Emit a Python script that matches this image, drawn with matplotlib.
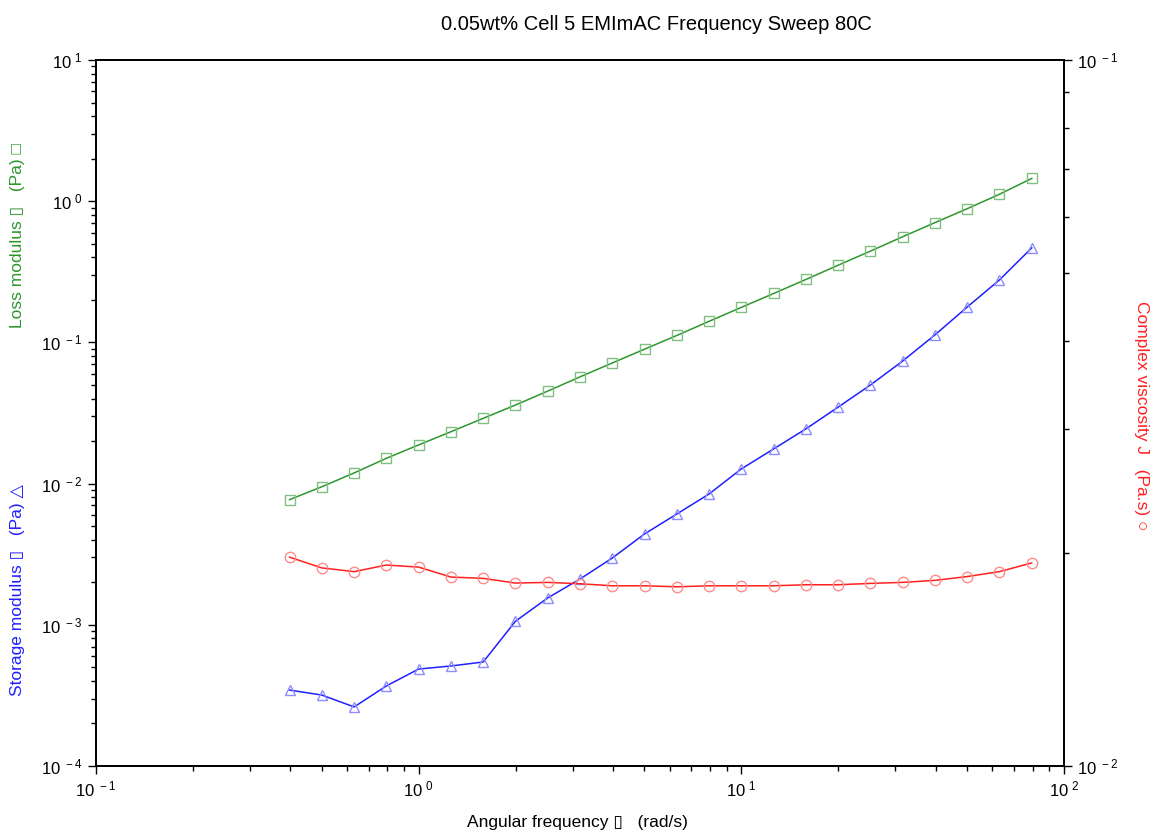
import matplotlib
matplotlib.use("Agg")
import numpy as np
import matplotlib.pyplot as plt
from matplotlib.ticker import LogLocator, NullFormatter, FuncFormatter

plt.rcParams['font.family'] = ['Liberation Sans', 'DejaVu Sans']
plt.rcParams['mathtext.fontset'] = 'custom'
plt.rcParams['mathtext.rm'] = 'Liberation Sans'
plt.rcParams['mathtext.default'] = 'regular'

# angular frequency (rad/s)
omega = [0.398, 0.501, 0.631, 0.794, 1.0, 1.259, 1.585, 1.995, 2.512, 3.162,
         3.981, 5.012, 6.310, 7.943, 10.0, 12.59, 15.85, 19.95, 25.12, 31.62,
         39.81, 50.12, 63.10, 79.43]

# loss modulus (Pa)
g_loss = [0.0077, 0.0095, 0.0119, 0.0151, 0.0188, 0.0233, 0.0290, 0.0360,
          0.0452, 0.0570, 0.0715, 0.0895, 0.112, 0.141, 0.177, 0.222, 0.279,
          0.352, 0.443, 0.560, 0.705, 0.885, 1.12, 1.45]

# storage modulus (Pa)
g_stor = [3.45e-4, 3.18e-4, 2.62e-4, 3.69e-4, 4.86e-4, 5.11e-4, 5.45e-4,
          1.06e-3, 1.55e-3, 2.11e-3, 2.97e-3, 4.40e-3, 6.09e-3, 8.44e-3,
          0.0127, 0.0176, 0.0244, 0.0348, 0.0499, 0.0738, 0.113, 0.178,
          0.277, 0.467]

# complex viscosity (Pa.s)
eta = [0.01976, 0.01908, 0.01885, 0.01926, 0.01913, 0.01852, 0.01844,
       0.01816, 0.01820, 0.01812, 0.01800, 0.01800, 0.01794, 0.01800,
       0.01800, 0.01800, 0.01806, 0.01806, 0.01814, 0.01820, 0.01832,
       0.01855, 0.01885, 0.01939]


def pow_label(v, pos):
    return r'$10^{\ %d}$' % int(round(np.log10(v)))


fig = plt.figure(figsize=(11.57, 8.33), dpi=100)
ax = fig.add_axes([96 / 1157, 1 - 766 / 833, (1064 - 96) / 1157, (766 - 60) / 833])
ax2 = ax.twinx()

ax.plot(omega, g_loss, color='#2e962e', lw=1.1, zorder=3)
ax.plot(omega, g_loss, ls='none', marker='s', ms=7.5, mfc='none', mec='#7fbf7f', mew=1.0, zorder=4)
ax.plot(omega, g_stor, color='#2020ff', lw=1.1, zorder=3)
ax.plot(omega, g_stor, ls='none', marker='^', ms=7.5, mfc='none', mec='#8c8cff', mew=1.0, zorder=4)
ax2.plot(omega, eta, color='#ff2020', lw=1.1, zorder=3)
ax2.plot(omega, eta, ls='none', marker='o', ms=7.5, mfc='none', mec='#ff8c8c', mew=1.0, zorder=4)

ax.set_xscale('log')
ax.set_yscale('log')
ax2.set_yscale('log')
ax.set_xlim(0.1, 100)
ax.set_ylim(1e-4, 10)
ax2.set_ylim(1e-2, 1e-1)

for a in (ax, ax2):
    for s in a.spines.values():
        s.set_linewidth(1.3)

ax.tick_params(axis='both', which='major', direction='out', length=6, width=1, labelsize=12, top=False)
ax.tick_params(axis='both', which='minor', direction='out', length=3.5, width=1, top=False)
ax.xaxis.set_major_formatter(FuncFormatter(pow_label))
ax.yaxis.set_major_formatter(FuncFormatter(pow_label))
ax.yaxis.set_minor_locator(LogLocator(base=10, subs=range(2, 10), numticks=20))
ax.yaxis.set_minor_formatter(NullFormatter())
ax.xaxis.set_minor_locator(LogLocator(base=10, subs=range(2, 10), numticks=20))
ax.xaxis.set_minor_formatter(NullFormatter())
ax2.tick_params(axis='y', which='major', direction='out', length=6, width=1, labelsize=12)
ax2.tick_params(axis='y', which='minor', direction='out', length=3.5, width=1)
ax2.yaxis.set_major_formatter(FuncFormatter(pow_label))
ax2.yaxis.set_minor_locator(LogLocator(base=10, subs=range(2, 10), numticks=20))
ax2.yaxis.set_minor_formatter(NullFormatter())

fig.text(656 / 1157, 1 - 25 / 833, '0.05wt% Cell 5 EMImAC Frequency Sweep 80C',
         ha='center', va='center', fontsize=14.5)
fig.text(577 / 1157, 1 - 823 / 833, 'Angular frequency \u25af   (rad/s)',
         ha='center', va='center', fontsize=12.5)
fig.text(18 / 1157, 1 - 235 / 833, 'Loss modulus \u25af   (Pa) \u25a1', color='#2e962e',
         rotation=90, ha='center', va='center', fontsize=12.5)
fig.text(18 / 1157, 1 - 590 / 833, 'Storage modulus \u25af   (Pa) \u25b3', color='#2020ff',
         rotation=90, ha='center', va='center', fontsize=12.5)
fig.text(1142 / 1157, 1 - 416 / 833, 'Complex viscosity J   (Pa.s) \u25cb', color='#ff2020',
         rotation=270, ha='center', va='center', fontsize=12.5)

fig.savefig('out.png', dpi=100)
